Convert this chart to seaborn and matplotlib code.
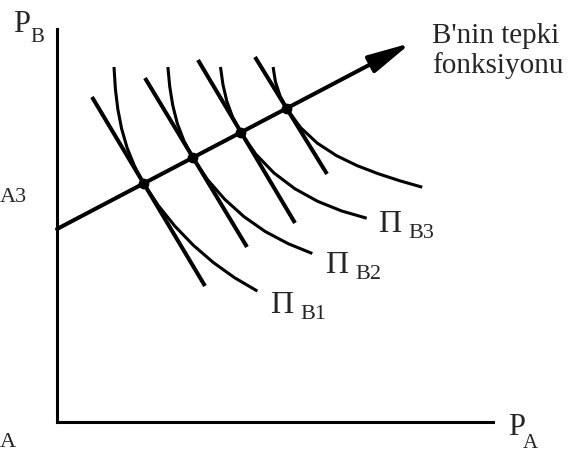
import matplotlib
matplotlib.use("Agg")
import matplotlib.pyplot as plt
import seaborn as sns

# Reaction-function diagram for firm B (P_A on x, P_B on y)

# B's reaction function: start on the P_B axis, arrow tip
reaction_x = [0, 354]
reaction_y = [193, 379]

# tangency points on the reaction function
dot_x = [87, 136, 184, 230]
dot_y = [238, 264, 289, 313]

# short steep tangent lines, one per curve (start, end)
tangent_x = [[35, 148], [88, 190], [141, 238], [198, 270]]
tangent_y = [[325, 136], [344, 175], [362, 199], [365, 248]]

# isoprofit curves, traced points (top to bottom-right)
curve1_x = [57, 58.4, 60.8, 64.6, 70.1, 77.6, 87, 101.6, 118.1, 136.4, 156.3, 177.7, 200.4]
curve1_y = [355, 332.9, 313, 293.4, 274.2, 255.7, 238, 216.1, 195.6, 176.7, 159.5, 144.2, 130.9]
curve2_x = [110.9, 112.7, 115.7, 120.3, 127.1, 136, 150.5, 167.6, 186.9, 208.2, 231.2, 255.3]
curve2_y = [355, 335.7, 316.9, 298.5, 280.8, 264, 242.4, 222.8, 205.4, 190.5, 178.3, 168.5]
curve3_x = [163.5, 165.9, 169.8, 175.8, 184, 198.9, 217, 237.8, 260.6, 284.7, 309.7]
curve3_y = [355, 337.7, 320.8, 304.4, 289, 267.7, 249, 233.3, 220.7, 211, 203.8]
curve4_x = [216.1, 218.4, 223, 230, 243.5, 260.2, 279.4, 300, 321.4, 343.2, 365.2]
curve4_y = [355, 340.4, 326.2, 313, 294.5, 278.9, 266.4, 256.4, 248.2, 241.1, 234.8]

curve_labels = ["B1", "B2", "B3"]
curve_label_pos = [(213, 110), (268, 150), (321, 191)]

sns.set_theme(style="white")
plt.rcParams["font.family"] = ["Liberation Serif", "DejaVu Serif"]

fig = plt.figure(figsize=(5.81, 4.52), dpi=100)
ax = fig.add_axes([0, 0, 1, 1])
ax.set_xlim(-57, 524)
ax.set_ylim(-29, 423)

# axes drawn as spines through the origin
for side in ["top", "right"]:
    ax.spines[side].set_visible(False)
ax.spines["left"].set_position(("data", 0))
ax.spines["bottom"].set_position(("data", 0))
ax.spines["left"].set_bounds(0, 393)
ax.spines["bottom"].set_bounds(0, 436)
for side in ["left", "bottom"]:
    ax.spines[side].set_color("black")
    ax.spines[side].set_linewidth(2.2)
ax.set_xticks([])
ax.set_yticks([])
ax.set_facecolor("white")

# isoprofit curves
for cx, cy in [(curve1_x, curve1_y), (curve2_x, curve2_y),
               (curve3_x, curve3_y), (curve4_x, curve4_y)]:
    sns.lineplot(x=cx, y=cy, sort=False, color="black", lw=2.2, ax=ax,
                 solid_joinstyle="round", solid_capstyle="butt")

# tangent lines
for tx, ty in zip(tangent_x, tangent_y):
    sns.lineplot(x=tx, y=ty, sort=False, color="black", lw=2.9, ax=ax,
                 solid_capstyle="butt")

# reaction function with arrow
ax.annotate("", xy=(reaction_x[1], reaction_y[1]), xytext=(reaction_x[0], reaction_y[0]),
            arrowprops=dict(arrowstyle="-|>,head_length=1.3,head_width=0.28",
                            mutation_scale=20, lw=2.9, color="black",
                            shrinkA=0, shrinkB=0))

sns.scatterplot(x=dot_x, y=dot_y, color="black", s=60, edgecolor="none", ax=ax, zorder=5)

# labels
ax.text(-44, 391, "P", fontsize=22, ha="left", va="baseline")
ax.text(-27, 381, "B", fontsize=15, ha="left", va="baseline")
ax.text(451, -12, "P", fontsize=22, ha="left", va="baseline")
ax.text(466, -25, "A", fontsize=15, ha="left", va="baseline")
ax.text(-57, 221, "A3", fontsize=16, ha="left", va="baseline")
ax.text(-57, -24, "A", fontsize=16, ha="left", va="baseline")

for lab, (lx, ly) in zip(curve_labels, curve_label_pos):
    ax.text(lx, ly, "\u03a0", fontsize=23, ha="left", va="baseline")
    ax.text(lx + 30, ly - 6, lab, fontsize=16, ha="left", va="baseline")

ax.text(375, 380, "B'nin tepki", fontsize=21, ha="left", va="baseline")
ax.text(375, 350, "fonksiyonu", fontsize=21, ha="left", va="baseline")

fig.savefig("out.png", dpi=100)
